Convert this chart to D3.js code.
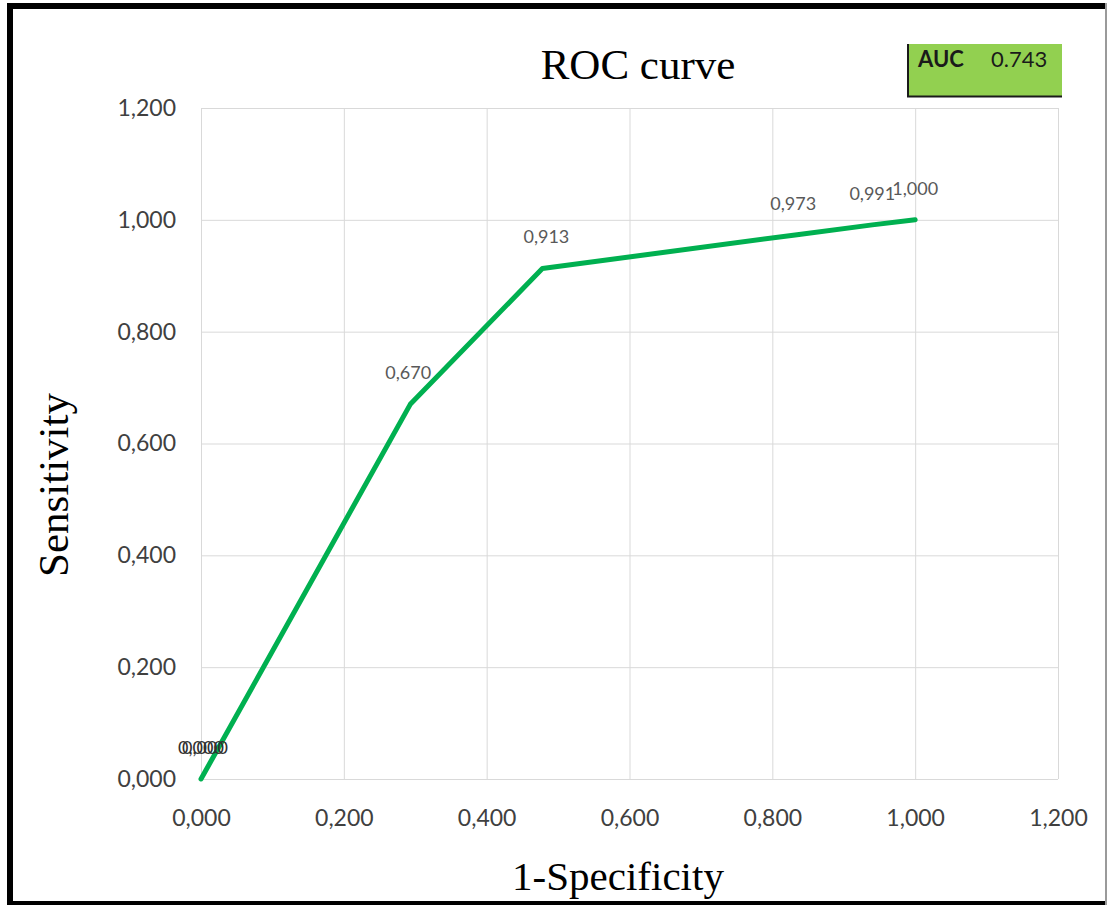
<!DOCTYPE html>
<html>
<head>
<meta charset="utf-8">
<script src="https://cdn.jsdelivr.net/npm/d3@7"></script>
<style>
html,body{margin:0;padding:0;background:#fff;}
svg{display:block;}
</style>
</head>
<body>
<svg id="chart" width="1107" height="905"></svg>
<script>
// Data
const fpr = [0, 0, 0.293, 0.478, 0.832, 0.940, 1.000];
const tpr = [0, 0, 0.670, 0.913, 0.973, 0.991, 1.000];
const pointLabels = ["0,000", "0,000", "0,670", "0,913", "0,973", "0,991", "1,000"];
const tickValues = [0, 0.2, 0.4, 0.6, 0.8, 1.0, 1.2];
const tickLabels = ["0,000", "0,200", "0,400", "0,600", "0,800", "1,000", "1,200"];
const titleText = "ROC curve";
const xTitle = "1-Specificity";
const yTitle = "Sensitivity";
const aucLabel = "AUC";
const aucValue = "0.743";

const svg = d3.select("#chart");
const W = 1107, H = 905;

// Outer frame
svg.append("rect").attr("x",0).attr("y",0).attr("width",W).attr("height",H).attr("fill","#fff");
svg.append("rect").attr("x",7).attr("y",3).attr("width",1100).attr("height",6).attr("fill","#000");
svg.append("rect").attr("x",7).attr("y",3).attr("width",6).attr("height",902).attr("fill","#000");
svg.append("rect").attr("x",7).attr("y",901).attr("width",1100).attr("height",4).attr("fill","#000");
svg.append("rect").attr("x",1105).attr("y",3).attr("width",2).attr("height",902).attr("fill","#9a9a9a");

const plot = {left:201, right:1058, top:108, bottom:779};
const x = d3.scaleLinear().domain([0,1.2]).range([plot.left, plot.right]);
const y = d3.scaleLinear().domain([0,1.2]).range([plot.bottom, plot.top]);

// Gridlines
const g = svg.append("g");
g.selectAll("line.vg").data(tickValues).enter().append("line")
  .attr("x1",d=>x(d)+0.5).attr("x2",d=>x(d)+0.5)
  .attr("y1",plot.top).attr("y2",plot.bottom)
  .attr("stroke","#d9d9d9").attr("stroke-width",1);
g.selectAll("line.hg").data(tickValues).enter().append("line")
  .attr("y1",d=>y(d)+0.5).attr("y2",d=>y(d)+0.5)
  .attr("x1",plot.left).attr("x2",plot.right)
  .attr("stroke","#d9d9d9").attr("stroke-width",1);

// Axes (labels only, via d3 axes)
const fmt = d => tickLabels[tickValues.indexOf(d)];
const xAxis = svg.append("g").attr("transform",`translate(0,${plot.bottom})`)
  .call(d3.axisBottom(x).tickValues(tickValues).tickFormat(fmt).tickSize(0).tickPadding(31));
const yAxis = svg.append("g").attr("transform",`translate(${plot.left},0)`)
  .call(d3.axisLeft(y).tickValues(tickValues).tickFormat(fmt).tickSize(0).tickPadding(25));
[xAxis,yAxis].forEach(a=>{
  a.select(".domain").remove();
  a.selectAll("text").attr("font-family","Lato, 'Open Sans', sans-serif")
    .attr("font-size","23px").attr("fill","#404040");
});

// ROC line
const pts = fpr.map((v,i)=>({x:v,y:tpr[i],label:pointLabels[i],i:i}));
svg.append("path").datum(pts)
  .attr("fill","none").attr("stroke","#00B050").attr("stroke-width",5)
  .attr("stroke-linejoin","round").attr("stroke-linecap","round")
  .attr("d", d3.line().x(d=>x(d.x)).y(d=>y(d.y)));

// Data labels (Excel-style, above each point; duplicates overlap slightly)
const dxFor = d => d.i===1 ? 4 : (d.label==="0,670" ? -2 : (d.label==="0,913" ? 4 : (d.label==="0,973" ? -2 : 0)));
svg.selectAll("text.dl").data(pts).enter().append("text")
  .attr("x",d=>x(d.x)+dxFor(d))
  .attr("y",d=>y(d.y)-25)
  .attr("text-anchor","middle")
  .attr("font-family","Lato, 'Open Sans', sans-serif")
  .attr("font-size","18px")
  .attr("fill",d=>d.y===0 ? "#303030" : "#595959")
  .text(d=>d.label);

// Title
svg.append("text").attr("x",638).attr("y",79).attr("text-anchor","middle")
  .attr("font-family","'Liberation Serif', 'DejaVu Serif', serif")
  .attr("font-size","43px").attr("fill","#000").text(titleText);
// X title
svg.append("text").attr("x",618).attr("y",890).attr("text-anchor","middle")
  .attr("font-family","'Liberation Serif', 'DejaVu Serif', serif")
  .attr("font-size","41px").attr("fill","#000").text(xTitle);
// Y title
svg.append("text").attr("transform","translate(68,485) rotate(-90)").attr("text-anchor","middle")
  .attr("font-family","'Liberation Serif', 'DejaVu Serif', serif")
  .attr("font-size","43px").attr("fill","#000").text(yTitle);

// AUC box
const box = svg.append("g");
box.append("rect").attr("x",907).attr("y",44).attr("width",155).attr("height",53).attr("fill","#92D050");
box.append("line").attr("x1",908).attr("x2",908).attr("y1",44).attr("y2",97).attr("stroke","#1a1a1a").attr("stroke-width",2);
box.append("line").attr("x1",907).attr("x2",1062).attr("y1",96.5).attr("y2",96.5).attr("stroke","#1a1a1a").attr("stroke-width",2);
box.append("text").attr("x",918).attr("y",67).attr("font-family","Lato, 'Open Sans', sans-serif")
  .attr("font-size","22px").attr("font-weight","bold").attr("fill","#1a1a1a").text(aucLabel);
box.append("text").attr("x",991).attr("y",67).attr("font-family","Lato, 'Open Sans', sans-serif")
  .attr("font-size","22px").attr("fill","#1a1a1a").text(aucValue);
</script>
</body>
</html>
